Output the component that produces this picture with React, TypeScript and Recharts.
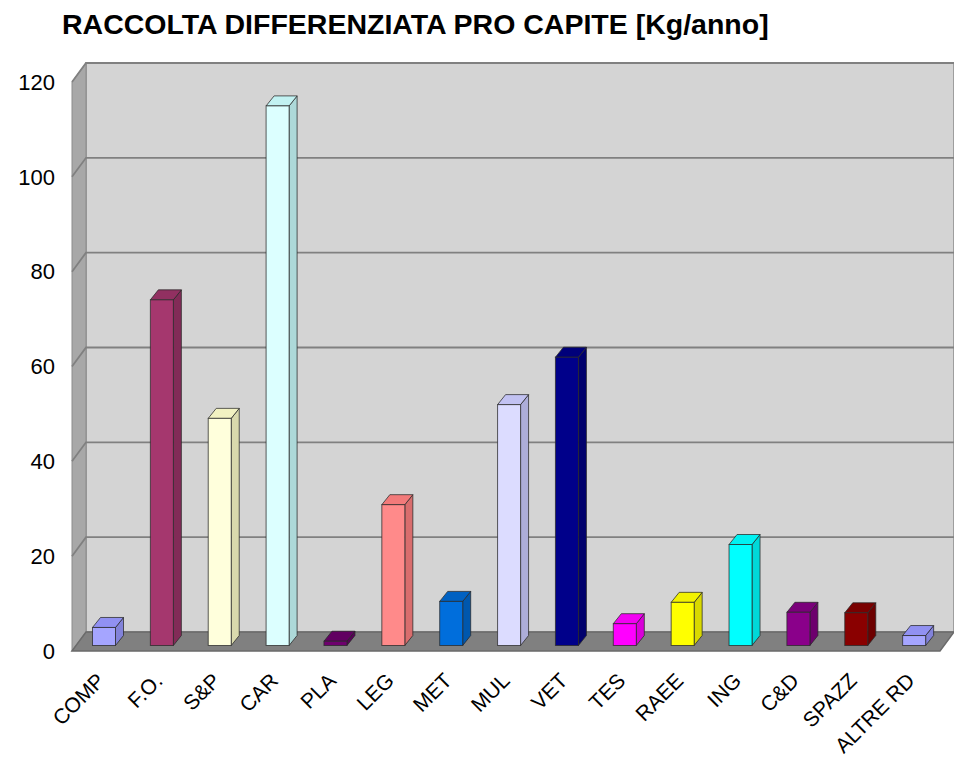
import React from 'react';
import { BarChart, Bar, XAxis, YAxis, ReferenceArea } from 'recharts';

// categories and values (kg per person per year)
const CATEGORIES = ['COMP', 'F.O.', 'S&P', 'CAR', 'PLA', 'LEG', 'MET', 'MUL', 'VET', 'TES', 'RAEE', 'ING', 'C&D', 'SPAZZ', 'ALTRE RD'];
const VALUES = [3.8, 72.9, 47.9, 113.8, 0.9, 29.7, 9.3, 50.8, 60.8, 4.6, 9.1, 21.3, 7.0, 6.9, 2.1];
const BAR_COLORS = ['#9999FF', '#993366', '#FFFFCC', '#CCFFFF', '#660066', '#FF8080', '#0066CC', '#CCCCFF', '#000080', '#FF00FF', '#FFFF00', '#00FFFF', '#800080', '#800000', '#9999FF'];
const Y_TICKS = [0, 20, 40, 60, 80, 100, 120];
const Y_MAX = 120;

const data = CATEGORIES.map((name, i) => ({ name, value: VALUES[i] }));

const FONT = "'Liberation Sans', Arial, sans-serif";

// 3D look: depth of the walls and of the bars
const WALL_DX = 14;
const WALL_DY = -19;
const BAR_SHIFT_X = 3.5;
const BAR_SHIFT_Y = -5.5;
const BAR_DX = 8;
const BAR_DY = -10;

const shade = (hex: string, f: number) => {
  const n = parseInt(hex.slice(1), 16);
  const k = (v: number) => Math.min(255, Math.round(v * f));
  return `rgb(${k((n >> 16) & 255)},${k((n >> 8) & 255)},${k(n & 255)})`;
};

const Walls = (props: any) => {
  const { x, y, width, height } = props;
  const bottom = y + height;
  return (
    <g>
      {/* back wall */}
      <rect x={x + WALL_DX} y={y + WALL_DY} width={width} height={height} fill="#D4D4D4" stroke="#8C8C8C" strokeWidth={1.5} />
      {/* left wall */}
      <polygon
        points={`${x},${y} ${x + WALL_DX},${y + WALL_DY} ${x + WALL_DX},${bottom + WALL_DY} ${x},${bottom}`}
        fill="#A8A8A8"
        stroke="#8C8C8C"
        strokeWidth={1}
      />
      {/* grid lines on the walls */}
      {Y_TICKS.filter(v => v > 0).map(v => {
        const yy = y + height * (1 - v / Y_MAX);
        return (
          <polyline
            key={v}
            points={`${x},${yy} ${x + WALL_DX},${yy + WALL_DY} ${x + width + WALL_DX},${yy + WALL_DY}`}
            fill="none"
            stroke="#808080"
            strokeWidth={1.8}
          />
        );
      })}
      {/* floor */}
      <polygon
        points={`${x},${bottom} ${x + WALL_DX},${bottom + WALL_DY} ${x + width + WALL_DX},${bottom + WALL_DY} ${x + width},${bottom}`}
        fill="#808080"
        stroke="#6A6A6A"
        strokeWidth={1.5}
      />
    </g>
  );
};

const Box3D = (props: any) => {
  const { x, y, width, height, index } = props;
  const c = BAR_COLORS[index];
  const fx = x + BAR_SHIFT_X;
  const fy = y + BAR_SHIFT_Y;
  const stroke = 'rgba(40,40,40,0.75)';
  return (
    <g>
      <polygon
        points={`${fx + width},${fy} ${fx + width + BAR_DX},${fy + BAR_DY} ${fx + width + BAR_DX},${fy + height + BAR_DY} ${fx + width},${fy + height}`}
        fill={shade(c, 0.85)}
        stroke={stroke}
        strokeWidth={1}
      />
      <polygon
        points={`${fx},${fy} ${fx + BAR_DX},${fy + BAR_DY} ${fx + width + BAR_DX},${fy + BAR_DY} ${fx + width},${fy}`}
        fill={shade(c, 0.95)}
        stroke={stroke}
        strokeWidth={1}
      />
      <rect x={fx} y={fy} width={width} height={height} fill={shade(c, 1.08)} stroke={stroke} strokeWidth={1} />
    </g>
  );
};

const XTick = (props: any) => {
  const { x, y, payload } = props;
  const ax = x + 5;
  const ay = y + 31;
  return (
    <text x={ax} y={ay} textAnchor="end" transform={`rotate(-45 ${ax} ${ay})`} fontSize={21} fontFamily={FONT} fill="#000">
      {payload.value}
    </text>
  );
};

export default function App() {
  return (
    <div style={{ position: 'absolute', left: 0, top: 0, width: 954, height: 765, background: '#fff' }}>
      <div
        style={{
          position: 'absolute',
          left: 62,
          top: 10,
          fontFamily: FONT,
          fontWeight: 'bold',
          fontSize: 28.5,
          lineHeight: '28px',
          color: '#000',
          whiteSpace: 'nowrap',
        }}
      >
        RACCOLTA DIFFERENZIATA PRO CAPITE [Kg/anno]
      </div>
      <BarChart width={954} height={765} data={data} margin={{ top: 82, right: 14, bottom: 0, left: 0 }} barSize={23}>
        <ReferenceArea y1={0} y2={Y_MAX} ifOverflow="visible" shape={<Walls />} />
        <XAxis dataKey="name" interval={0} axisLine={false} tickLine={false} tickSize={0} tickMargin={0} height={114} tick={<XTick />} />
        <YAxis
          domain={[0, Y_MAX]}
          ticks={Y_TICKS}
          axisLine={false}
          tickLine={false}
          tickSize={0}
          tickMargin={17}
          width={72}
          tick={{ fontSize: 22, fill: '#000', fontFamily: FONT }}
        />
        <Bar dataKey="value" isAnimationActive={false} shape={<Box3D />} />
      </BarChart>
    </div>
  );
}
